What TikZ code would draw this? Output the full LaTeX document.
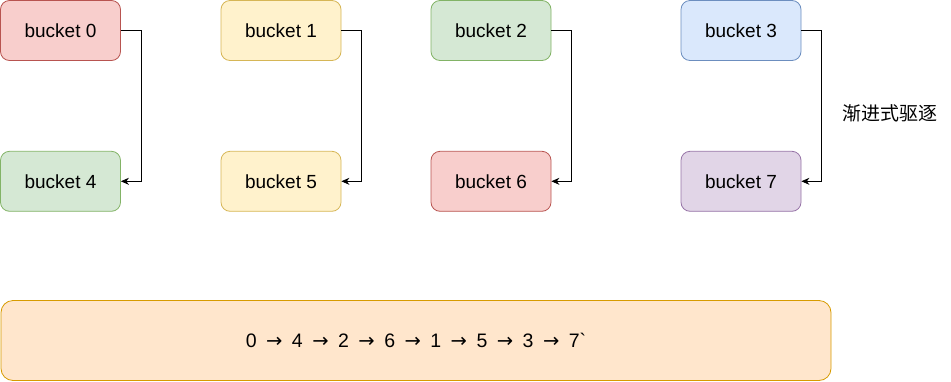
\documentclass[tikz,border=0pt]{standalone}
\usepackage{fontspec}
\setmainfont{Liberation Sans}
\newfontfamily\cjk{Noto Sans CJK SC}
\newfontfamily\seqfont{Liberation Sans}[WordSpace=1.75]
\newfontfamily\arrowfont{DejaVu Sans}
\newcommand{\nxt}{{\arrowfont →}}
\usetikzlibrary{arrows.meta,positioning}

\definecolor{redfill}{HTML}{F8CECC}\definecolor{redline}{HTML}{B85450}
\definecolor{yelfill}{HTML}{FFF2CC}\definecolor{yelline}{HTML}{D6B656}
\definecolor{grnfill}{HTML}{D5E8D4}\definecolor{grnline}{HTML}{82B366}
\definecolor{blufill}{HTML}{DAE8FC}\definecolor{bluline}{HTML}{6C8EBF}
\definecolor{purfill}{HTML}{E1D5E7}\definecolor{purline}{HTML}{9673A6}
\definecolor{orgfill}{HTML}{FFE6CC}\definecolor{orgline}{HTML}{D79B00}

\begin{document}
\begin{tikzpicture}[
    x=1pt, y=-1pt,
    node distance=90pt and 100pt,
    box/.style={draw, rounded corners=9pt, line width=0.8pt, minimum width=120pt, minimum height=60pt, inner sep=0pt, font=\fontsize{19}{22}\selectfont},
    redbox/.style={box, fill=redfill, draw=redline},
    yelbox/.style={box, fill=yelfill, draw=yelline},
    grnbox/.style={box, fill=grnfill, draw=grnline},
    blubox/.style={box, fill=blufill, draw=bluline},
    purbox/.style={box, fill=purfill, draw=purline},
    arr/.style={-{Stealth[length=8pt,width=7pt]}, line width=0.8pt}
]
\useasboundingbox (0,0) rectangle (951,381);
\node[redbox] (b0) at (60.5,30.5) {bucket 0};
\node[yelbox] (b1) at (281,30.5) {bucket 1};
\node[grnbox] (b2) at (491,30.5) {bucket 2};
\node[blubox] (b3) at (741,30.5) {bucket 3};
\node[grnbox, below=of b0] (b4) {bucket 4};
\node[yelbox, below=of b1] (b5) {bucket 5};
\node[redbox, below=of b2] (b6) {bucket 6};
\node[purbox, below=of b3] (b7) {bucket 7};
\node[font=\cjk\fontsize{19}{22}\selectfont] (evict) at (890,113) {渐进式驱逐};
\node[box, fill=orgfill, draw=orgline, rounded corners=12pt, minimum width=830pt, minimum height=80pt, font=\seqfont\fontsize{19.5}{22}\selectfont] (seq) at (416,340.5)
    {0 \nxt{} 4 \nxt{} 2 \nxt{} 6 \nxt{} 1 \nxt{} 5 \nxt{} 3 \nxt{} 7\symbol{96}};
\draw[arr] (b0.east) -- ++(20,0) |- (b4.east);
\draw[arr] (b1.east) -- ++(20,0) |- (b5.east);
\draw[arr] (b2.east) -- ++(20,0) |- (b6.east);
\draw[arr] (b3.east) -- ++(20,0) |- (b7.east);
\end{tikzpicture}
\end{document}
